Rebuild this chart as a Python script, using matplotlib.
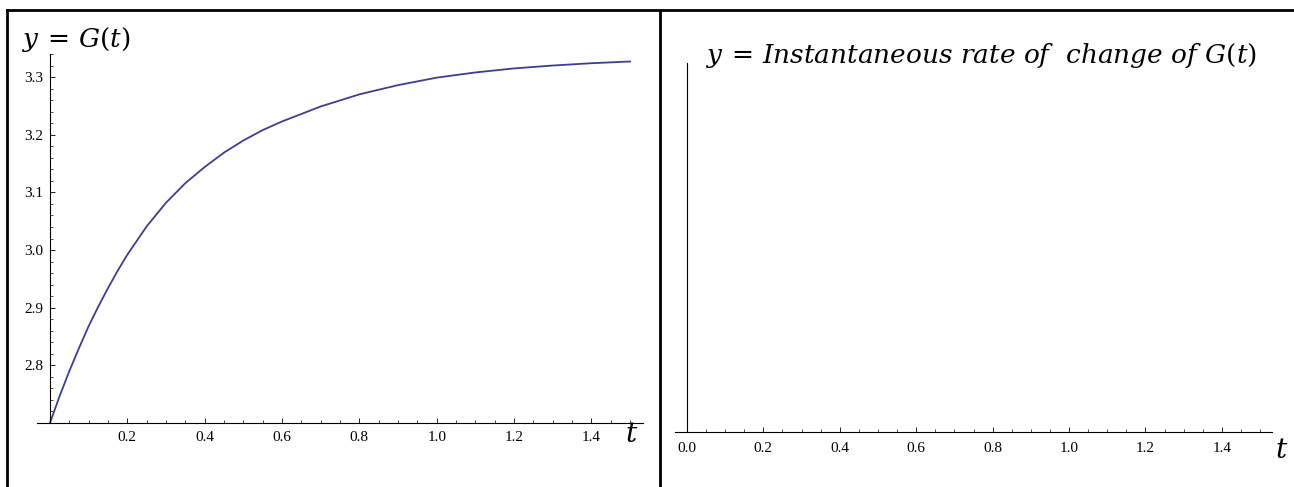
import matplotlib.pyplot as plt
from matplotlib.lines import Line2D
from matplotlib.ticker import MultipleLocator, FixedLocator

# values
t_vals = [0.0, 0.025, 0.05, 0.075, 0.1, 0.125, 0.15, 0.175, 0.2, 0.25, 0.3,
          0.35, 0.4, 0.45, 0.5, 0.55, 0.6, 0.7, 0.8, 0.9, 1.0, 1.1, 1.2,
          1.3, 1.4, 1.5]
g_vals = [2.700, 2.747, 2.790, 2.830, 2.868, 2.902, 2.934, 2.964, 2.992,
          3.041, 3.082, 3.116, 3.144, 3.169, 3.190, 3.208, 3.223, 3.249,
          3.270, 3.286, 3.299, 3.308, 3.315, 3.320, 3.324, 3.327]

left_xticks = [0.2, 0.4, 0.6, 0.8, 1.0, 1.2, 1.4]
left_yticks = [2.8, 2.9, 3.0, 3.1, 3.2, 3.3]
right_xticks = [0.0, 0.2, 0.4, 0.6, 0.8, 1.0, 1.2, 1.4]

left_title = r"$y\,=\,G(t)$"
right_title = r"$y\,=\,Instantaneous\ rate\ of\ \ change\ of\ G(t)$"

plt.rcParams["mathtext.fontset"] = "dejavuserif"
W, H = 1294, 487
fig = plt.figure(figsize=(W / 100, H / 100), dpi=100)


def px_axes(x0, y_top, x1, y_bot):
    return fig.add_axes([x0 / W, 1 - y_bot / H, (x1 - x0) / W, (y_bot - y_top) / H])


def style(ax):
    for s in ["top", "right"]:
        ax.spines[s].set_visible(False)
    ax.spines["left"].set_position(("data", 0))
    for s in ["left", "bottom"]:
        ax.spines[s].set_linewidth(0.8)
    ax.tick_params(direction="in", which="major", length=3.5, width=0.6,
                   labelsize=11, pad=6)
    ax.tick_params(direction="in", which="minor", length=2, width=0.5)
    ax.xaxis.set_minor_locator(MultipleLocator(0.05))
    for lab in ax.get_xticklabels() + ax.get_yticklabels():
        lab.set_fontfamily("Liberation Serif")


# left panel
ax1 = px_axes(37, 54, 643, 423)
ax1.plot(t_vals, g_vals, color="#3d3d99", lw=1.3)
ax1.set_xlim(-0.0336, 1.5335)
ax1.set_ylim(2.70, 3.34)
ax1.xaxis.set_major_locator(FixedLocator(left_xticks))
ax1.yaxis.set_major_locator(FixedLocator(left_yticks))
ax1.yaxis.set_minor_locator(MultipleLocator(0.02))
ax1.set_xticklabels([f"{v:.1f}" for v in left_xticks])
ax1.set_yticklabels([f"{v:.1f}" for v in left_yticks])
style(ax1)
ax1.tick_params(axis="y", pad=5)

# right panel
ax2 = px_axes(675, 63, 1272, 432)
ax2.set_xlim(-0.031, 1.531)
ax2.set_ylim(0, 1)
ax2.xaxis.set_major_locator(FixedLocator(right_xticks))
ax2.set_xticklabels([f"{v:.1f}" for v in right_xticks])
ax2.set_yticks([])
style(ax2)
ax2.tick_params(axis="x", pad=7)

# titles and axis letters
fig.text(22 / W, 1 - 40 / H, left_title, fontsize=19, va="center", ha="left")
fig.text(706 / W, 1 - 56 / H, right_title, fontsize=19, va="center", ha="left")
fig.text(632 / W, 1 - 434 / H, r"$t$", fontsize=20, va="center", ha="center")
fig.text(1282 / W, 1 - 450 / H, r"$t$", fontsize=20, va="center", ha="center")

# table borders
for xs, ys in [([7, W], [10, 10]), ([7, 7], [10, H]), ([660, 660], [10, H])]:
    fig.add_artist(Line2D([x / W for x in xs], [1 - y / H for y in ys],
                          color="black", lw=2))

fig.savefig("out.png", dpi=100)
